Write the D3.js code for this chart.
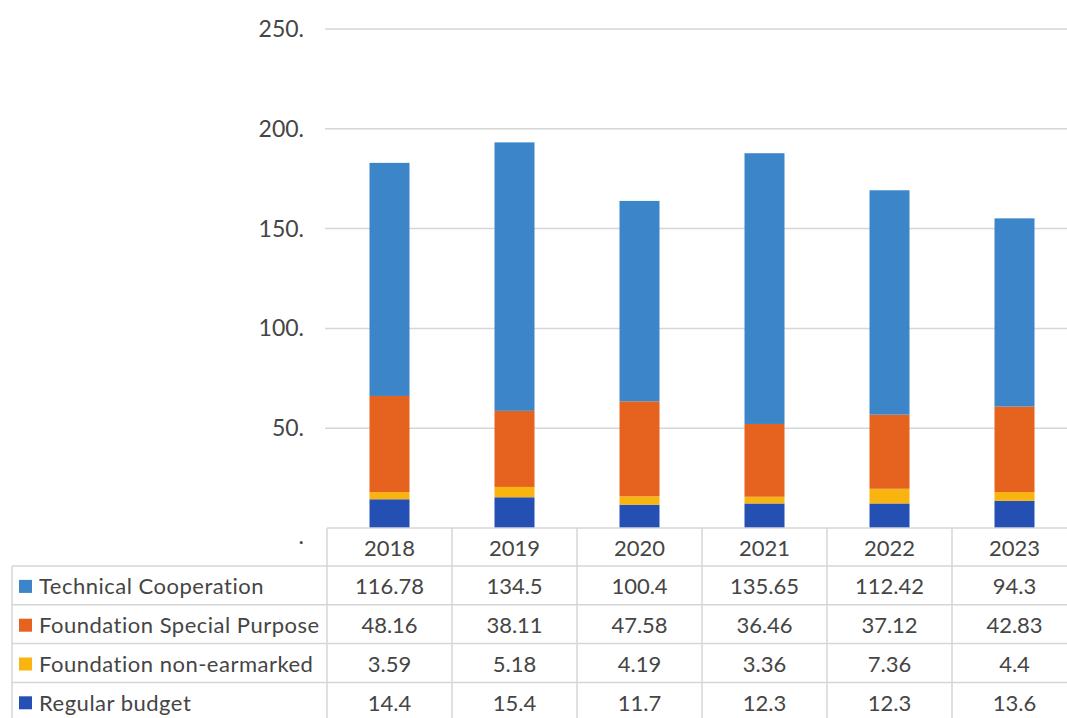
<!DOCTYPE html>
<html><head><meta charset="utf-8">
<script src="https://cdn.jsdelivr.net/npm/d3@7"></script>
<style>body{margin:0;background:#fff}svg{display:block}</style>
</head><body>
<svg id="c" width="1067" height="718"></svg>
<script>
const years = ["2018","2019","2020","2021","2022","2023"];
const seriesNames = ["Technical Cooperation","Foundation Special Purpose","Foundation non-earmarked","Regular budget"];
const technicalCooperation = [116.78,134.5,100.4,135.65,112.42,94.3];
const foundationSpecial = [48.16,38.11,47.58,36.46,37.12,42.83];
const foundationNonEarmarked = [3.59,5.18,4.19,3.36,7.36,4.4];
const regularBudget = [14.4,15.4,11.7,12.3,12.3,13.6];
const tableLabels = [
  ["116.78","134.5","100.4","135.65","112.42","94.3"],
  ["48.16","38.11","47.58","36.46","37.12","42.83"],
  ["3.59","5.18","4.19","3.36","7.36","4.4"],
  ["14.4","15.4","11.7","12.3","12.3","13.6"]
];
const yTicks = [0,50,100,150,200,250];
const yTickLabels = [".","50.","100.","150.","200.","250."];
const colors = {"Technical Cooperation":"#3C85C9","Foundation Special Purpose":"#E6621F","Foundation non-earmarked":"#F9B40F","Regular budget":"#2450B4"};

const values = {"Technical Cooperation":technicalCooperation,"Foundation Special Purpose":foundationSpecial,"Foundation non-earmarked":foundationNonEarmarked,"Regular budget":regularBudget};
const rows = years.map((y,i)=>{const o={year:y};seriesNames.forEach(s=>o[s]=values[s][i]);return o;});
const stackOrder = ["Regular budget","Foundation non-earmarked","Foundation Special Purpose","Technical Cooperation"];
const stacked = d3.stack().keys(stackOrder)(rows);

const svg = d3.select("#c");
const font = "Lato, 'Open Sans', sans-serif";
const textCol = "#454545";
const lineCol = "#d6d6d6";

const x = d3.scaleBand().domain(years).range([327,1077]).padding(0);
const y = d3.scaleLinear().domain([0,250]).range([528,29]);
const barW = x.bandwidth()*0.32;

// gridlines
svg.append("g").selectAll("line").data(yTicks.filter(t=>t>0)).join("line")
  .attr("x1",325).attr("x2",1067).attr("y1",d=>y(d)).attr("y2",d=>y(d))
  .attr("stroke",lineCol).attr("stroke-width",1.5);

// y labels
svg.append("g").selectAll("text").data(yTicks).join("text")
  .attr("x",304).attr("y",d=>y(d)+(d===0?8:0)).attr("dy","0.35em")
  .attr("text-anchor","end").attr("font-family",font).attr("font-size",23).attr("fill",textCol)
  .text((d,i)=>yTickLabels[i]);

// bars
svg.append("g").selectAll("g").data(stacked).join("g").attr("fill",d=>colors[d.key])
  .selectAll("rect").data(d=>d).join("rect")
  .attr("x",d=>x(d.data.year)+(x.bandwidth()-barW)/2)
  .attr("width",barW)
  .attr("y",d=>y(d[1])).attr("height",d=>y(d[0])-y(d[1]));

// table
const rowTop = 528, headerH = 38, rowH = 38.8, legendLeft = 12;
const tg = svg.append("g");
years.forEach((yr,i)=>{
  tg.append("line").attr("x1",x(yr)).attr("x2",x(yr)).attr("y1",rowTop).attr("y2",718).attr("stroke",lineCol).attr("stroke-width",1.5);
});
tg.append("line").attr("x1",x.range()[1]).attr("x2",x.range()[1]).attr("y1",rowTop).attr("y2",718).attr("stroke",lineCol).attr("stroke-width",1.5);
tg.append("line").attr("x1",x(years[0])).attr("x2",1077).attr("y1",rowTop).attr("y2",rowTop).attr("stroke",lineCol).attr("stroke-width",1.5);
tg.append("line").attr("x1",legendLeft).attr("x2",legendLeft).attr("y1",rowTop+headerH).attr("y2",718).attr("stroke",lineCol).attr("stroke-width",1.5);
for(let r=0;r<=4;r++){
  const yy = rowTop+headerH+r*rowH;
  tg.append("line").attr("x1",legendLeft).attr("x2",1077).attr("y1",yy).attr("y2",yy).attr("stroke",lineCol).attr("stroke-width",1.5);
}
tg.selectAll("text.hdr").data(years).join("text").attr("class","hdr")
  .attr("x",d=>x(d)+x.bandwidth()/2).attr("y",rowTop+headerH/2+1).attr("dy","0.35em")
  .attr("text-anchor","middle").attr("font-family",font).attr("font-size",22).attr("fill",textCol).text(d=>d);
seriesNames.forEach((s,r)=>{
  const cy = rowTop+headerH+r*rowH+rowH/2+1;
  tg.append("rect").attr("x",19).attr("y",cy-6.5).attr("width",13).attr("height",13).attr("fill",colors[s]);
  tg.append("text").attr("x",39).attr("y",cy).attr("dy","0.35em").attr("font-family",font).attr("font-size",22)
    .attr("letter-spacing",0.5).attr("fill",textCol).text(s);
  tg.selectAll(null).data(years).join("text")
    .attr("x",d=>x(d)+x.bandwidth()/2).attr("y",cy).attr("dy","0.35em")
    .attr("text-anchor","middle").attr("font-family",font).attr("font-size",22).attr("fill",textCol)
    .text((d,i)=>tableLabels[r][i]);
});
</script>
</body></html>
